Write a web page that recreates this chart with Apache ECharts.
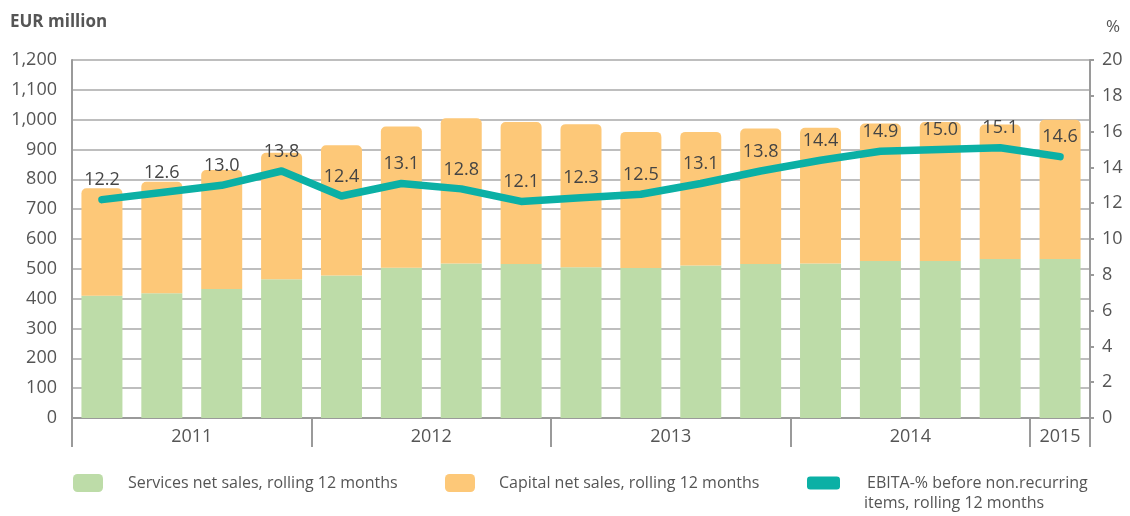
<!DOCTYPE html>
<html>
<head>
<meta charset="utf-8">
<script src="https://cdn.jsdelivr.net/npm/echarts@6/dist/echarts.min.js"></script>
<style>
  html, body { margin: 0; padding: 0; background: #fff; }
  #chart { width: 1130px; height: 516px; }
</style>
</head>
<body>
<div id="chart"></div>
<script>
// quarters, rolling 12 months
var quarters = ['Q1/11', 'Q2/11', 'Q3/11', 'Q4/11', 'Q1/12', 'Q2/12', 'Q3/12', 'Q4/12',
    'Q1/13', 'Q2/13', 'Q3/13', 'Q4/13', 'Q1/14', 'Q2/14', 'Q3/14', 'Q4/14', 'Q1/15'];
var years = ['2011', '2012', '2013', '2014', '2015'];
var quartersPerYear = [4, 4, 4, 4, 1];

var servicesSales = [410, 418, 432, 465, 478, 504, 518, 516, 505, 503, 511, 516, 518, 526, 526, 533, 533];
var capitalSales = [360, 374, 399, 424, 436, 473, 487, 476, 480, 456, 448, 454, 455, 461, 466, 451, 467];
var ebitaPct = [12.2, 12.6, 13.0, 13.8, 12.4, 13.1, 12.8, 12.1, 12.3, 12.5, 13.1, 13.8, 14.4, 14.9, 15.0, 15.1, 14.6];

var leftTicks = [0, 1200, 100];
var rightTicks = [0, 20, 2];

// year group boundaries and centres on a 0..17 scale
var yearEdges = [0];
var yearCentres = [];
quartersPerYear.forEach(function (n, i) {
    yearCentres.push(yearEdges[i] + n / 2);
    yearEdges.push(yearEdges[i] + n);
});

var FONT = '"Open Sans", "Noto Sans", sans-serif';
var GREY = '#555';
var AXIS = '#9a9a9a';

var myChart = echarts.init(document.getElementById('chart'));
myChart.setOption({
    animation: false,
    textStyle: { fontFamily: FONT },
    grid: { left: 72, right: 40, top: 60, bottom: 98 },
    legend: [
        {
            data: ['Services net sales, rolling 12 months'],
            left: 68, top: 469,
            icon: 'roundRect', itemWidth: 30, itemHeight: 18,
            textStyle: { fontSize: 16, color: GREY, padding: [0, 0, 0, 20] },
            selectedMode: false
        },
        {
            data: ['Capital net sales, rolling 12 months'],
            left: 440, top: 469,
            icon: 'roundRect', itemWidth: 30, itemHeight: 18,
            textStyle: { fontSize: 16, color: GREY, padding: [0, 0, 0, 19] },
            selectedMode: false
        },
        {
            data: ['EBITA-% before non.recurring items, rolling 12 months'],
            left: 802, top: 470,
            icon: 'roundRect', itemWidth: 33, itemHeight: 13,
            formatter: function () { return 'EBITA-% before non.recurring'; },
            textStyle: { fontSize: 16, color: GREY, padding: [0, 0, 0, 22] },
            selectedMode: false
        }
    ],
    graphic: [
        {
            type: 'text', left: 10, top: 14,
            style: { text: 'EUR million', font: 'bold 17px ' + FONT, fill: GREY }
        },
        {
            type: 'text', left: 1106, top: 19,
            style: { text: '%', font: '17px ' + FONT, fill: GREY }
        },
        {
            type: 'text', left: 864, top: 495,
            style: { text: 'items, rolling 12 months', font: '16px ' + FONT, fill: GREY }
        }
    ],
    xAxis: [
        {
            type: 'category',
            data: quarters,
            axisLine: { lineStyle: { color: AXIS, width: 2 } },
            axisTick: { show: false },
            axisLabel: { show: false }
        },
        {
            type: 'value',
            min: 0,
            max: quarters.length,
            position: 'bottom',
            axisLine: { show: false },
            splitLine: { show: false },
            axisTick: {
                show: true,
                customValues: yearEdges,
                length: 29,
                lineStyle: { color: AXIS, width: 2 }
            },
            axisLabel: {
                customValues: yearCentres,
                margin: 10,
                fontSize: 18,
                color: GREY,
                formatter: function (v) {
                    return years[yearCentres.indexOf(v)];
                }
            }
        }
    ],
    yAxis: [
        {
            type: 'value',
            min: leftTicks[0], max: leftTicks[1], interval: leftTicks[2],
            axisLine: { show: true, lineStyle: { color: AXIS, width: 2 } },
            axisTick: { show: false },
            splitLine: { lineStyle: { color: '#a8a8a8', width: 1.5 } },
            axisLabel: {
                fontSize: 18, color: GREY, margin: 15,
                formatter: function (v) { return v.toLocaleString('en-US'); }
            }
        },
        {
            type: 'value',
            position: 'right',
            min: rightTicks[0], max: rightTicks[1], interval: rightTicks[2],
            axisLine: { show: true, lineStyle: { color: AXIS, width: 2 } },
            axisTick: { show: true, length: 4, lineStyle: { color: AXIS, width: 2 } },
            splitLine: { show: false },
            axisLabel: { fontSize: 18, color: GREY, margin: 12 }
        }
    ],
    series: [
        {
            name: 'Services net sales, rolling 12 months',
            type: 'bar',
            stack: 'sales',
            barWidth: 41,
            data: servicesSales,
            itemStyle: { color: '#bddca8' }
        },
        {
            name: 'Capital net sales, rolling 12 months',
            type: 'bar',
            stack: 'sales',
            barWidth: 41,
            data: capitalSales,
            itemStyle: { color: '#fdc878', borderRadius: [5, 5, 0, 0] }
        },
        {
            name: 'EBITA-% before non.recurring items, rolling 12 months',
            type: 'line',
            yAxisIndex: 1,
            data: ebitaPct,
            symbol: 'circle',
            symbolSize: 1,
            showSymbol: true,
            itemStyle: { color: '#0bb0a5' },
            lineStyle: { color: '#0bb0a5', width: 7.5, cap: 'round', join: 'round' },
            label: {
                show: true,
                position: 'top',
                distance: 10,
                fontSize: 18,
                color: '#444',
                formatter: function (p) { return p.value.toFixed(1); }
            },
            z: 5
        }
    ]
});
</script>
</body>
</html>
